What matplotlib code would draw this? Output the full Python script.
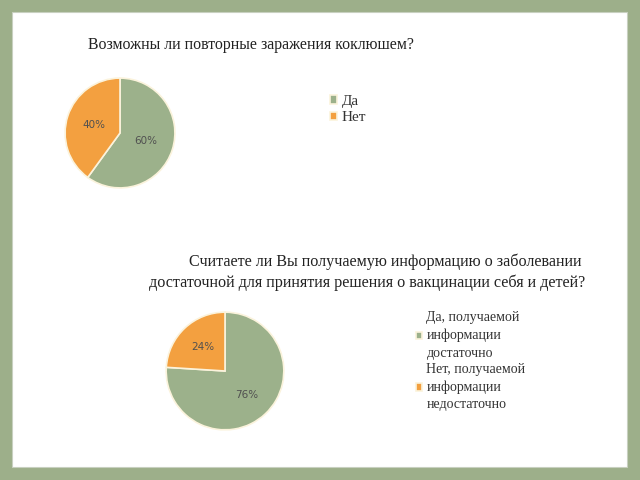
import matplotlib.pyplot as plt
from matplotlib.patches import Rectangle

plt.rcParams['font.family'] = ['Liberation Serif', 'DejaVu Serif']

title1 = "Возможны ли повторные заражения коклюшем?"
labels1 = ["Да", "Нет"]
values1 = [60, 40]

title2_lines = ["Считаете ли Вы получаемую информацию о заболевании",
                "достаточной для принятия решения о вакцинации себя и детей?"]
labels2 = ["Да, получаемой\nинформации\nдостаточно",
           "Нет, получаемой\nинформации\nнедостаточно"]
values2 = [76, 24]

colors = ["#9cb18b", "#f3a040"]
bg = "#9daf8a"

W, H = 640, 480
fig = plt.figure(figsize=(6.4, 4.8), dpi=100)
fig.patch.set_facecolor(bg)
fig.patches.append(Rectangle((12 / W, 13 / H), 615 / W, 455 / H,
                             transform=fig.transFigure, facecolor="white",
                             edgecolor="#c8d0c0", linewidth=0.8, zorder=-5))


def px_axes(cx, cy, r):
    # square axes centred on a pixel position (y measured from top)
    return fig.add_axes([(cx - r) / W, (H - cy - r) / H, 2 * r / W, 2 * r / H])


def draw_pie(ax, values, lbl_dist):
    wedges, texts = ax.pie(values, colors=colors, startangle=90, counterclock=False,
                           labels=[f"{v}%" for v in values], labeldistance=lbl_dist,
                           wedgeprops=dict(edgecolor="#fbf3dc", linewidth=1.2),
                           textprops=dict(fontsize=7.5, color="#505050",
                                          family="DejaVu Sans"))
    for t in texts:
        t.set_ha("center")
        t.set_va("center")
    ax.set_xlim(-1.02, 1.02)
    ax.set_ylim(-1.02, 1.02)
    ax.set_aspect("equal")
    ax.axis("off")
    return wedges


ax1 = px_axes(120, 133, 56)
w1 = draw_pie(ax1, values1, 0.5)
fig.text(251 / W, 1 - 45 / H, title1, ha="center", va="center", fontsize=11.4, color="#222222")
fig.legend(w1, labels1, loc="upper left", bbox_to_anchor=(330 / W, 1 - 95 / H),
           frameon=False, fontsize=11, handlelength=0.45, handleheight=0.45,
           handletextpad=0.3, labelspacing=0.2, borderpad=0, borderaxespad=0,
           labelcolor="#333333")

ax2 = px_axes(225, 371, 60)
w2 = draw_pie(ax2, values2, 0.55)
for cx, cy, line in zip([385, 367], [262, 283], title2_lines):
    fig.text(cx / W, 1 - cy / H, line, ha="center", va="center", fontsize=11.6,
             color="#222222")
leg2 = fig.legend(w2, labels2, loc="upper left", bbox_to_anchor=(416 / W, 1 - 311 / H),
                  frameon=False, fontsize=10, handlelength=0.45, handleheight=0.45,
                  handletextpad=0.3, labelspacing=0.2, borderpad=0, borderaxespad=0,
                  labelcolor="#333333")
for t in leg2.get_texts():
    t.set_linespacing(1.45)
    t.set_multialignment("left")

fig.savefig("out.png", dpi=100, facecolor=bg)
